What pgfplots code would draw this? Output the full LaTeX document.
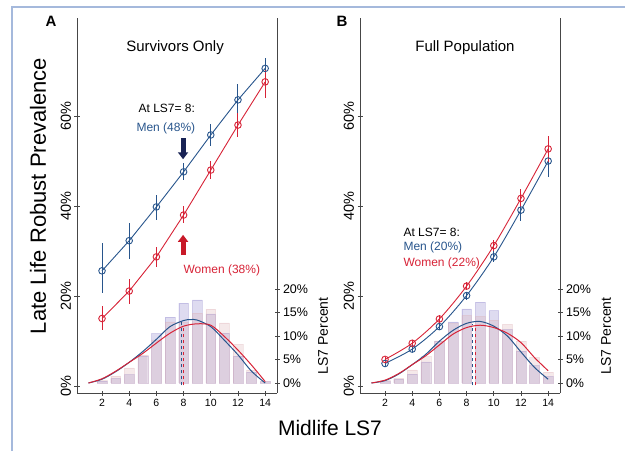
\documentclass[border=0pt]{standalone}
\usepackage{pgfplots}
\pgfplotsset{compat=1.18}
\usepackage{fontspec}
\setmainfont{Liberation Sans}
\usetikzlibrary{arrows.meta}

\definecolor{menblue}{RGB}{40,85,140}
\definecolor{womenred}{RGB}{215,35,55}
\definecolor{navy}{RGB}{25,35,85}
\definecolor{arrred}{RGB}{200,25,40}
\definecolor{barblue}{RGB}{135,125,200}
\definecolor{barpink}{RGB}{220,175,180}
\definecolor{framecol}{RGB}{165,185,220}
\definecolor{axcol}{RGB}{70,70,70}

\newcommand{\fs}[1]{\fontsize{#1}{#1}\selectfont}

\pgfplotsset{
  nolinetips/.style={
    every outer x axis line/.append style={-},
    every outer y axis line/.append style={-},
    every inner x axis line/.append style={-},
    every inner y axis line/.append style={-}},
  panel/.style={scale only axis, width=200pt, height=375pt,
    xmin=0.16, xmax=14.87,
    axis line style={-, axcol, line width=0.8pt},
    tick style={axcol, line width=0.8pt},
    tick align=outside, major tick length=5pt,
    /pgf/number format/assume math mode=true},
  main/.style={panel, ymin=-1.56, ymax=81.8,
    axis x line=bottom, axis y line=left, nolinetips,
    xtick={2,4,...,14}, ytick={0,20,40,60},
    yticklabel={\pgfmathprintnumber{\tick}\%},
    xticklabel style={font=\fs{10.5}},
    yticklabel style={font=\fs{14.5}, rotate=90, anchor=south}},
  hist/.style={panel, ymin=-2.13, ymax=77.7, clip=false,
    axis x line=none, axis y line=right, nolinetips,
    ytick={0,5,...,20},
    yticklabel={\pgfmathprintnumber{\tick}\%},
    yticklabel style={font=\fs{12.5}}},
  bars/.style={ybar, bar width=0.72, bar shift=0pt, draw=#1, draw opacity=0.3,
    fill=#1, fill opacity=0.28, forget plot},
  dens/.style={smooth, line width=1pt, #1, mark=none},
  pts/.style={#1, line width=0.9pt, mark=o, mark size=3.3pt,
    error bars/.cd, y dir=both, y explicit,
    error mark=none, error bar style={line width=1pt, #1}},
}

\begin{document}
\begin{tikzpicture}[x=1pt,y=1pt]
\useasboundingbox (0,0) rectangle (625,451);
\draw[framecol, line width=1.5pt] (12,0) -- (12,444) -- (625,444);

% ---------------- Panel A ----------------
\begin{axis}[hist, at={(77pt,58pt)}, anchor=south west]
  \addplot[bars=barblue] coordinates {(2,0.4) (3,1.0) (4,1.8) (5,5.7) (6,10.5) (7,14.0) (8,17.0) (9,17.7) (10,14.7) (11,10.6) (12,5.7) (13,2.3) (14,0.3)};
  \addplot[bars=barpink] coordinates {(2,0.5) (3,1.5) (4,3.2) (5,6.0) (6,9.2) (7,13.0) (8,13.0) (9,14.9) (10,15.7) (11,12.8) (12,8.2) (13,2.8) (14,0.3)};
  \addplot[dens=menblue] coordinates {(1,0) (2,0.8) (3,2.4) (4,4.4) (5,6.7) (6,9.3) (7,12.0) (8,13.3) (8.5,13.5) (9,13.4) (10,12.0) (11,9.1) (12,6.0) (13,2.5) (14,0)};
  \addplot[dens=womenred] coordinates {(1,0) (2,0.9) (3,2.5) (4,4.4) (5,6.3) (6,8.5) (7,10.6) (8,12.1) (9,12.6) (10,12.3) (11,9.9) (12,7.0) (13,3.8) (14,0.3)};
  \addplot[menblue, dashed, line width=1pt] coordinates {(7.86,-0.5) (7.86,13.3)};
  \addplot[womenred, dashed, line width=1pt] coordinates {(7.98,-0.5) (7.98,12.1)};
  \node[rotate=90, font=\fs{14}] at ([xshift=46pt]axis cs:14.87,10) {LS7 Percent};
\end{axis}

\begin{axis}[main, at={(77pt,58pt)}, anchor=south west]
  \addplot[pts=menblue] coordinates {
    (2,25.6) += (0,6.2) -= (0,4.9)
    (4,32.3) += (0,4.0) -= (0,4.1)
    (6,39.8) += (0,2.6) -= (0,2.9)
    (8,47.6) += (0,1.9) -= (0,1.8)
    (10,55.8) += (0,2.4) -= (0,2.5)
    (12,63.6) += (0,3.5) -= (0,4.0)
    (14,70.6) += (0,2.4) -= (0,2.6)};
  \addplot[pts=womenred] coordinates {
    (2,15.0) += (0,2.8) -= (0,2.6)
    (4,21.1) += (0,2.7) -= (0,2.9)
    (6,28.7) += (0,2.3) -= (0,2.2)
    (8,38.0) += (0,2.0) -= (0,1.8)
    (10,48.0) += (0,2.0) -= (0,2.0)
    (12,58.0) += (0,2.7) -= (0,2.7)
    (14,67.6) += (0,2.6) -= (0,3.6)};
  \node[font=\fs{15}] at (axis cs:7.37,75.3) {Survivors Only};
  \node[anchor=west, font=\fs{12}] at (axis cs:4.43,61.8) {At LS7= 8:};
  \node[anchor=west, font=\fs{12}, text=menblue] at (axis cs:4.28,57.3) {Men (48\%)};
  \node[anchor=west, font=\fs{12}, text=womenred] at (axis cs:7.74,25.6) {Women (38\%)};
  \draw[navy, line width=5pt, -{Triangle[length=7pt,width=10pt]}] (axis cs:7.96,55.1) -- (axis cs:7.96,50.4);
  \draw[arrred, line width=5pt, -{Triangle[length=7pt,width=10pt]}] (axis cs:7.96,29.1) -- (axis cs:7.96,33.6);
\end{axis}

% ---------------- Panel B ----------------
\begin{axis}[hist, at={(360pt,58pt)}, anchor=south west]
  \addplot[bars=barblue] coordinates {(2,0.3) (3,0.8) (4,1.9) (5,4.5) (6,8.9) (7,13.0) (8,15.8) (9,17.2) (10,15.4) (11,11.4) (12,6.8) (13,3.7) (14,1.4)};
  \addplot[bars=barpink] coordinates {(2,0.5) (3,1.0) (4,2.8) (5,5.6) (6,9.0) (7,12.7) (8,14.4) (9,14.2) (10,13.4) (11,12.5) (12,8.9) (13,5.4) (14,2.3)};
  \addplot[dens=menblue] coordinates {(1,0) (2,0.5) (3,1.9) (4,3.9) (5,6.1) (6,8.9) (7,11.2) (8,12.7) (9,13.1) (10,12.1) (11,10.0) (12,6.6) (13,3.3) (14,0.8)};
  \addplot[dens=womenred] coordinates {(1,0) (2,0.6) (3,2.0) (4,3.9) (5,5.8) (6,8.1) (7,10.4) (8,11.8) (9,12.3) (10,11.8) (11,10.6) (12,8.6) (13,5.4) (14,2.6)};
  \addplot[menblue, dashed, line width=1pt] coordinates {(8.45,-0.5) (8.45,12.6)};
  \addplot[womenred, dashed, line width=1pt] coordinates {(8.67,-0.5) (8.67,12.0)};
  \node[rotate=90, font=\fs{14}] at ([xshift=46pt]axis cs:14.87,10) {LS7 Percent};
\end{axis}

\begin{axis}[main, at={(360pt,58pt)}, anchor=south west]
  \addplot[smooth, pts=menblue] coordinates {
    (2,5.0) +- (0,0.7)
    (4,8.2) +- (0,0.7)
    (6,13.2) +- (0,0.8)
    (8,20.1) +- (0,0.9)
    (10,28.7) +- (0,1.2)
    (12,39.1) +- (0,2.4)
    (14,50.0) += (0,2.1) -= (0,3.5)};
  \addplot[smooth, pts=womenred] coordinates {
    (2,5.9) +- (0,0.6)
    (4,9.5) +- (0,0.7)
    (6,14.9) +- (0,0.8)
    (8,22.2) +- (0,0.9)
    (10,31.2) +- (0,1.2)
    (12,41.7) += (0,2.1) -= (0,1.9)
    (14,52.7) += (0,2.9) -= (0,2.8)};
  \node[font=\fs{15}] at (axis cs:7.88,75.3) {Full Population};
  \node[anchor=west, font=\fs{12}] at (axis cs:3.1,34.2) {At LS7= 8:};
  \node[anchor=west, font=\fs{12}, text=menblue] at (axis cs:3.1,30.7) {Men (20\%)};
  \node[anchor=west, font=\fs{12}, text=womenred] at (axis cs:3.1,27.3) {Women (22\%)};
\end{axis}

% ---------------- labels ----------------
\node[font=\bfseries\fs{15}] at (51,430) {A};
\node[font=\bfseries\fs{15}] at (342,430) {B};
\node[rotate=90, font=\fs{22}] at (38,255) {Late Life Robust Prevalence};
\node[font=\fs{21}] at (330,23) {Midlife LS7};
\end{tikzpicture}
\end{document}
